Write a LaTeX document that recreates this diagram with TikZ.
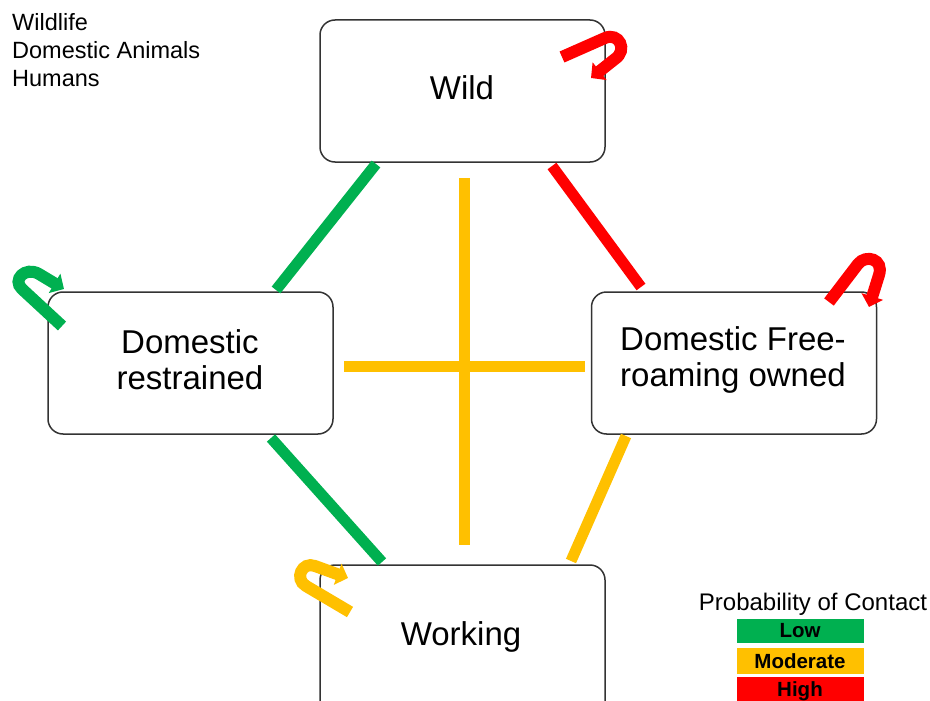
\documentclass[tikz,border=0pt]{standalone}
\usepackage{fontspec}
\setmainfont{Liberation Sans}
\usetikzlibrary{arrows.meta}
\definecolor{cgreen}{HTML}{00B050}
\definecolor{cyellow}{HTML}{FFC000}
\definecolor{cred}{HTML}{FF0000}
\begin{document}
\begin{tikzpicture}[x=1pt,y=-1pt,
  box/.style={draw=black!80, line width=1.5pt, rounded corners=15pt, fill=white,
    minimum width=285pt, minimum height=142pt, align=center, inner sep=0pt,
    font=\fontsize{33}{36}\selectfont},
  link/.style={line width=11pt},
  selfloop/.style={line width=12pt, -{Triangle[width=22pt,length=11pt]}},
  legbox/.style={minimum width=127pt, inner sep=0pt, font=\fontsize{20.5}{22}\selectfont\bfseries},
  keytext/.style={anchor=base west, inner sep=0pt, font=\fontsize{23.5}{26}\selectfont}
]
\useasboundingbox (0,0) rectangle (930,701);
\clip (0,0) rectangle (930,701);

% key text
\node[keytext] (k1) at (12,31) {Wildlife};
\node[keytext] (k2) at (12,59) {Domestic Animals};
\node[keytext] (k3) at (12,87) {Humans};

% boxes
\node[box] (wild) at (462.5,91) {};
\node[font=\fontsize{33}{36}\selectfont, inner sep=0pt] (wildtext) at (462,88) {Wild};
\node[box] (dr) at (190.5,363) {};
\node[font=\fontsize{33}{36}\selectfont, inner sep=0pt, align=center] (drtext) at (190,360) {Domestic\\restrained};
\node[box] (dfr) at (734,363) {};
\node[font=\fontsize{33}{36}\selectfont, inner sep=0pt, align=center] (dfrtext) at (733,360) {Domestic Free-\\roaming owned};
\node[box, minimum height=152pt] (work) at (462.5,641) {};
\node[font=\fontsize{33}{36}\selectfont, inner sep=0pt] (worktext) at (461,637) {Working};

% connector end points
\coordinate (a1) at (376,164); \coordinate (a2) at (276,290);
\coordinate (b1) at (552,166); \coordinate (b2) at (641,287);
\coordinate (c1) at (271,438); \coordinate (c2) at (382,562);
\coordinate (d1) at (626,436); \coordinate (d2) at (571,561);
\coordinate (v1) at (464,178); \coordinate (v2) at (464,545);
\coordinate (h1) at (344,366); \coordinate (h2) at (585,366);

\draw[link, cgreen] (a1) -- (a2);
\draw[link, cred] (b1) -- (b2);
\draw[link, cgreen] (c1) -- (c2);
\draw[link, cyellow] (d1) -- (d2);
\draw[link, cyellow] (v1) -- (v2);
\draw[link, cyellow] (h1) -- (h2);

% self loops
\draw[selfloop, cred] (562,57) -- (605,38) .. controls (619,32) and (628,50) .. (615,59) -- (591,78);
\draw[selfloop, cgreen] (62,326) -- (22,289) .. controls (12,280) and (25,266) .. (39,274) -- (64,289);
\draw[selfloop, cred] (829,302) -- (858,264) .. controls (866,254) and (884,259) .. (879,275) -- (869,307);
\draw[selfloop, cyellow] (350,612) -- (306,586) .. controls (294,579) and (302,561) .. (315,566) -- (348,578);

% legend
\node[font=\fontsize{24}{26}\selectfont, inner sep=0pt] (legtitle) at (813,604) {Probability of Contact};
\node[legbox, fill=cgreen, minimum height=24pt] (low) at (800,630.5) {Low};
\node[legbox, fill=cyellow, minimum height=26pt] (mod) at (800,661) {Moderate};
\node[legbox, fill=cred, minimum height=28pt] (high) at (800,691) {High};
\end{tikzpicture}
\end{document}
